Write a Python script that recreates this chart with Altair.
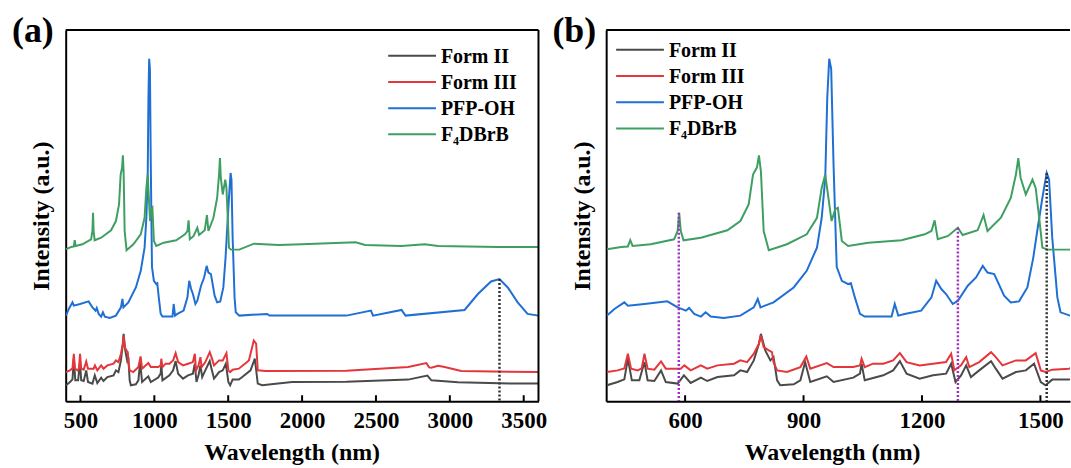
import altair as alt
import pandas as pd

# ---------------- data ----------------
SERIES = ["Form II", "Form III", "PFP-OH", "F\u2084DBrB"]
COLORS = ["#4a4a4a", "#e4363b", "#1f6fd5", "#3f9f63"]

# (wavelength nm, intensity a.u. offset-stacked as in the figure)
FORM_II = [(402, 16), (429, 19.3), (446, 22), (455, 42.7), (465, 21), (484, 21), (497, 39.3),
           (505, 21), (522, 20.3), (539, 31), (551, 19.3), (581, 17.7), (597, 26), (614, 18.3),
           (640, 23.7), (656, 20.3), (682, 24.3), (724, 26), (740, 31), (757, 29.3), (774, 41),
           (787, 57.7), (792, 67.7), (803, 51), (816, 41), (824, 44.3), (833, 21), (841, 16),
           (875, 17), (892, 21), (904, 39.3), (917, 19.3), (959, 25), (976, 19.3), (1026, 23.7),
           (1043, 27.7), (1047, 37.7), (1055, 21), (1102, 26), (1127, 31), (1144, 40.3),
           (1161, 27.7), (1194, 22.7), (1228, 26), (1261, 27.7), (1274, 37.7), (1285, 19.3),
           (1299, 26), (1312, 36), (1324, 24.3), (1345, 31), (1375, 40.3), (1387, 32.7),
           (1404, 22.7), (1438, 29.3), (1463, 31), (1484, 37.7), (1501, 19.3), (1513, 16),
           (1530, 21.7), (1572, 21.7), (1595, 24.3), (1651, 31), (1680, 42.7), (1700, 17.7),
           (1730, 16), (1932, 19.3), (2300, 19.5), (2718, 21.7), (2848, 25.7), (2875, 21),
           (3055, 19), (3414, 17.7), (3600, 17.7)]

FORM_III = [(402, 29.3), (429, 31), (446, 33), (455, 47.7), (463, 32.7), (480, 31), (490, 33),
            (497, 47.7), (505, 32.7), (522, 31.7), (539, 40), (551, 32.7), (589, 32.7), (598, 36),
            (614, 31), (640, 36), (656, 32.7), (682, 36), (724, 37.7), (740, 41), (757, 39.3),
            (774, 47.7), (787, 57.7), (792, 66), (799, 54.3), (812, 51), (820, 49.3), (824, 39.3),
            (833, 31), (858, 29.3), (892, 34.3), (907, 45), (917, 32.7), (959, 38.3), (976, 34.3),
            (1026, 34.3), (1043, 36), (1047, 42.7), (1055, 34.3), (1076, 37.7), (1102, 37.7),
            (1127, 41), (1144, 48.3), (1161, 39.3), (1194, 36), (1228, 37.7), (1261, 39.3),
            (1274, 47.7), (1282, 31), (1299, 36), (1312, 44.3), (1320, 34.3), (1345, 39.3),
            (1375, 49.3), (1387, 44.3), (1404, 36), (1438, 41), (1463, 41), (1488, 48.3),
            (1501, 31), (1513, 29.3), (1530, 31.7), (1572, 32.7), (1640, 41), (1673, 61),
            (1689, 57.7), (1700, 31), (1752, 30.3), (2300, 30.5), (2718, 34.3), (2841, 38.3),
            (2860, 34), (2875, 33.7), (2920, 35.7), (2965, 34.3), (3077, 30.3), (3600, 29.3)]

PFP_OH = [(402, 86), (421, 92.7), (446, 99.3), (455, 96), (497, 97.7), (555, 100.3), (581, 94.3),
          (602, 91), (610, 93.7), (623, 87.7), (640, 85), (652, 89.3), (665, 85), (698, 83.7),
          (740, 86), (774, 94.3), (784, 102.7), (791, 94.3), (824, 99.3), (875, 114.3), (908, 131),
          (934, 154.3), (946, 184.3), (955, 224.3), (960, 304), (965, 344), (970, 334),
          (976, 237.7), (984, 135), (997, 121), (1013, 117.7), (1020, 118.5), (1030, 104.3),
          (1043, 87.7), (1055, 85), (1123, 85), (1131, 97.7), (1140, 86), (1156, 87.7),
          (1198, 91), (1224, 104.3), (1236, 121), (1249, 112.7), (1261, 107.7), (1278, 97.7),
          (1291, 101), (1316, 116), (1337, 124.3), (1354, 136), (1366, 129.3), (1383, 127.7),
          (1408, 106), (1425, 99.3), (1446, 100.3), (1467, 114.3), (1482, 144.3), (1492, 171),
          (1505, 204.3), (1516, 229.3), (1522, 222.7), (1530, 164.3), (1543, 104.3),
          (1551, 89.3), (1575, 86), (1763, 87.7), (1780, 86), (2300, 86), (2466, 91),
          (2480, 86), (2673, 91.7), (2700, 86), (3100, 91.7), (3190, 107.7), (3279, 120.3),
          (3336, 122.7), (3392, 114.3), (3459, 99.3), (3526, 87.7), (3600, 86)]

F4DBRB = [(402, 152.7), (438, 155), (455, 155.5), (461, 161.7), (467, 156), (513, 157.7),
          (572, 162.7), (581, 171), (585, 189.3), (589, 171), (596, 161.7), (640, 164.3),
          (707, 171.7), (740, 181), (761, 197.7), (772, 227.7), (782, 235), (787, 247),
          (792, 231), (799, 171), (812, 151.7), (858, 157.7), (908, 167.7), (934, 184.3),
          (946, 214.3), (955, 227.7), (963, 204.3), (971, 181), (980, 192.7), (987, 194.3),
          (997, 161), (1013, 156), (1064, 159.3), (1148, 161.7), (1207, 167.7), (1224, 171),
          (1232, 181.7), (1240, 162.7), (1266, 166), (1291, 174.3), (1303, 167), (1341, 171.7),
          (1356, 187), (1366, 171), (1400, 184.3), (1425, 204.3), (1438, 227.7), (1444, 244.3),
          (1450, 224.3), (1463, 207.7), (1480, 222.7), (1488, 214.3), (1497, 184.3),
          (1505, 154.3), (1518, 152.3), (1575, 152.3), (1674, 158.3), (1842, 157),
          (1999, 157.7), (2363, 159.7), (2426, 157), (2673, 156), (2830, 157.7), (2920, 156),
          (3324, 155), (3600, 155)]

# dotted guide lines: (wavelength, top intensity, colour)
DOTS_A = [(3336, 122.7, "#333333")]
DOTS_B = [(584, 189.3, "#a22fc0"), (1291, 174.3, "#a22fc0"), (1516, 229.3, "#333333")]

TICKS_A = [500, 1000, 1500, 2000, 2500, 3000, 3500]
TICKS_B = [600, 900, 1200, 1500]

# ---------------- tables ----------------
rows = []
for name, pts in zip(SERIES, [FORM_II, FORM_III, PFP_OH, F4DBRB]):
    for nm, v in pts:
        rows.append({"series": name, "nm": nm, "I": v})
df = pd.DataFrame(rows)

H = 373
FONT = "Liberation Serif"


def panel(xdom, width, ticks, dots, lx, ly, label, right_frame):
    xscale = alt.Scale(domain=xdom, nice=False, zero=False)
    yscale = alt.Scale(domain=[0, H], nice=False, zero=True)
    xaxis = alt.Axis(values=ticks, ticks=False, tickSize=0, labelFontSize=23, labelPadding=8,
                     labelFont=FONT, labelFontWeight="bold", labelColor="black",
                     title="Wavelength (nm)", titleFontSize=24, titlePadding=9, titleX=227,
                     titleFont=FONT, titleFontWeight="bold", titleColor="black",
                     domainColor="black", domainWidth=2, grid=False, labelFlush=False,
                     labelOverlap=False, format="d")
    yaxis = alt.Axis(labels=False, ticks=False, tickSize=0, grid=False, domainColor="black",
                     domainWidth=2, title="Intensity (a.u.)", titleFontSize=24, titlePadding=12,
                     titleFont=FONT, titleFontWeight="bold", titleColor="black",
                     minExtent=0)
    X = alt.X("nm:Q", scale=xscale, axis=xaxis)
    Y = alt.Y("I:Q", scale=yscale, axis=yaxis)

    lines = alt.Chart(df).mark_line(clip=True, strokeWidth=2).encode(
        x=X, y=Y,
        color=alt.Color("series:N", sort=SERIES,
                        scale=alt.Scale(domain=SERIES, range=COLORS), legend=None),
        order=alt.Order("nm:Q"),
    )
    ddf = pd.DataFrame(dots, columns=["nm", "I", "c"])
    ddf["I0"] = 0
    dotted = alt.Chart(ddf).mark_rule(strokeDash=[2, 2], strokeWidth=2.5, clip=True).encode(
        x=X, y=Y, y2="I0:Q", color=alt.Color("c:N", scale=None))
    tdf = pd.DataFrame({"nm": ticks})
    tks = alt.Chart(tdf).mark_rule(strokeWidth=2, color="black").encode(
        x=X, y=alt.value(H - 6), y2=alt.value(H))
    one = pd.DataFrame({"t": [label]})
    top = alt.Chart(one).mark_rule(strokeWidth=2, color="black").encode(
        x=alt.value(0), x2=alt.value(width), y=alt.value(0))
    txt = alt.Chart(one).mark_text(align="left", baseline="top", fontSize=36, font=FONT,
                                   fontWeight="bold", color="black").encode(
        text="t:N", x=alt.value(-54), y=alt.value(-16))
    layers = [lines, dotted, tks, top, txt]
    if right_frame:
        layers.append(alt.Chart(one).mark_rule(strokeWidth=2, color="black").encode(
            x=alt.value(width), y=alt.value(0), y2=alt.value(H)))
    # legend: one short line + label per series
    for i, (name, col) in enumerate(zip(SERIES, COLORS)):
        yy = ly + i * 26.3
        ldf = pd.DataFrame({"t": [name]})
        layers.append(alt.Chart(ldf).mark_rule(strokeWidth=2, color=col).encode(
            x=alt.value(lx), x2=alt.value(lx + 48), y=alt.value(yy)))
        layers.append(alt.Chart(ldf).mark_text(align="left", baseline="middle", fontSize=20,
                                               font=FONT, fontWeight="bold", color="black").encode(
            text="t:N", x=alt.value(lx + 53), y=alt.value(yy + 1)))
    return alt.layer(*layers).properties(width=width, height=H)


pa = panel([400, 3600], 475, TICKS_A, DOTS_A, 324, 26, "(a)", True)
pb = panel([400, 1575], 466, TICKS_B, DOTS_B, 10, 20, "(b)", False)

chart = (
    alt.hconcat(pa, pb, spacing=5)
    .resolve_scale(x="independent", y="independent", color="independent")
    .properties(padding={"left": 12, "top": 12, "right": 0, "bottom": 0}, background="white")
    .configure(font=FONT)
    .configure_view(stroke=None)
)

chart.save("out.html", embed_options={"renderer": "svg", "actions": False})
